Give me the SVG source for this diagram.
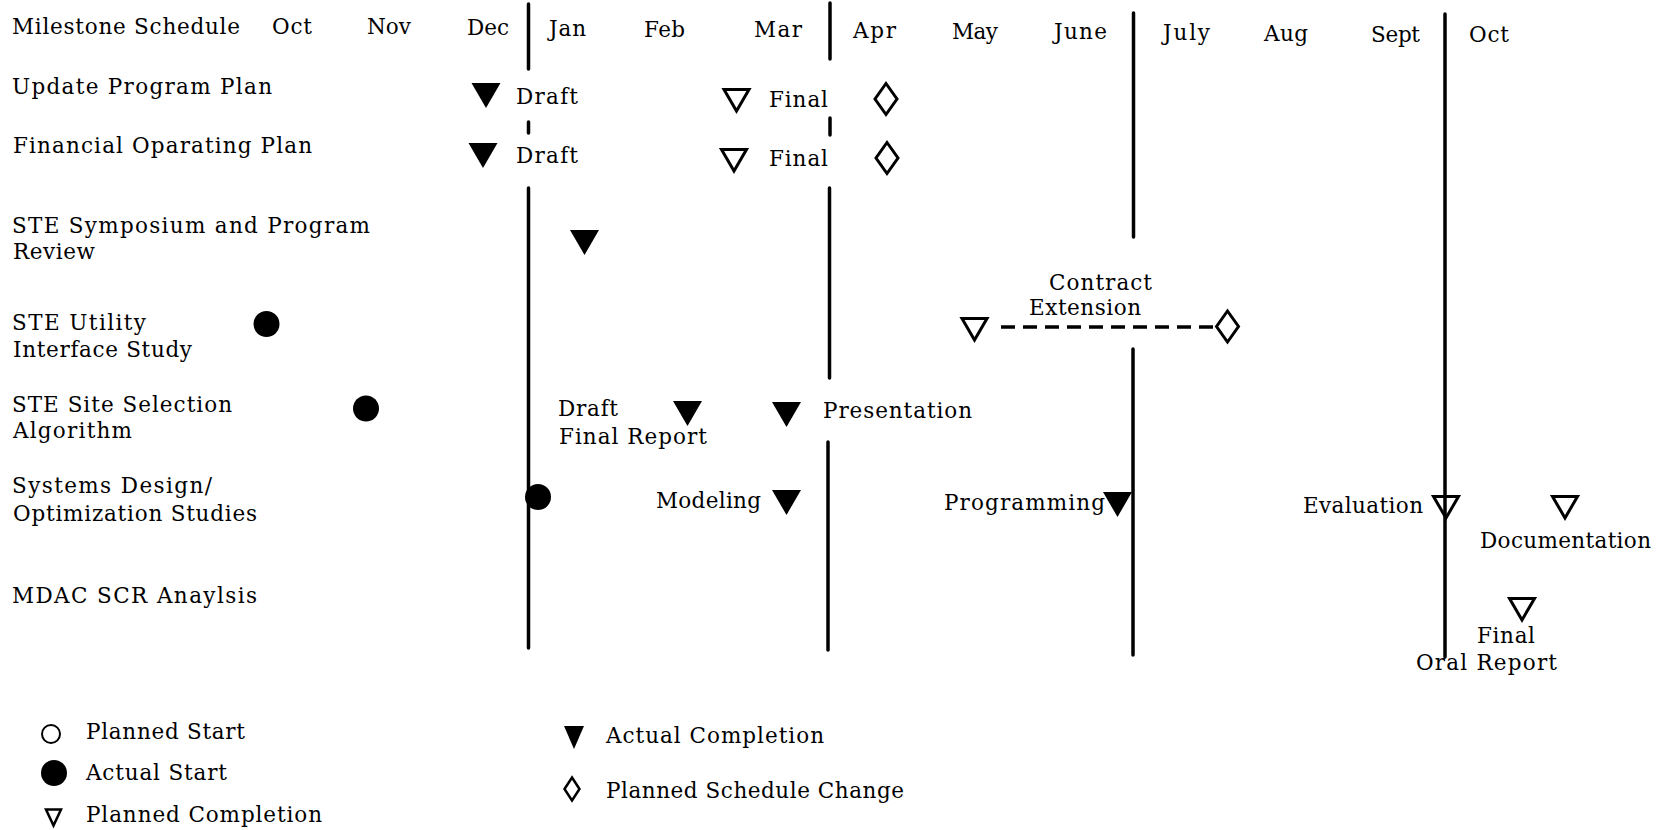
<svg xmlns="http://www.w3.org/2000/svg" xmlns:xlink="http://www.w3.org/1999/xlink" width="1665" height="830" viewBox="0 0 1665 830">
  <style>
    .t { font-family: "DejaVu Serif", "Liberation Serif", serif; font-size: 21.5px; fill: #000; }
    .div { stroke: #000; stroke-width: 3.5; stroke-linecap: round; fill: none; }
    .ext { stroke: #000; stroke-width: 3.5; stroke-dasharray: 14 8; fill: none; }
    .act { fill: #000; }
    .pln { fill: #fff; stroke: #000; stroke-width: 3; stroke-linejoin: miter; }
    .thru { fill: none; }
    .chg { fill: #fff; stroke: #000; stroke-width: 3; stroke-linejoin: miter; }
    .beg { fill: #000; }
  </style>
  <defs>
    <!-- actual completion: solid down triangle, origin at top centre -->
    <polygon id="tri-act" class="act" points="-14.5,0 14.5,0 0,25"/>
    <!-- planned completion: open down triangle, origin at top centre -->
    <polygon id="tri-pln" points="-12.5,1.5 12.5,1.5 0,23"/>
    <!-- planned schedule change: open diamond, origin at centre -->
    <polygon id="dia" class="chg" points="0,-15.5 11,0 0,15.5 -11,0"/>
    <!-- actual start: solid dot -->
    <circle id="dot" class="beg" r="13"/>
  </defs>

  <rect width="1665" height="830" fill="#fff"/>

  <!-- quarter dividers -->
  <g id="dividers">
    <line class="div" x1="528.5" y1="4" x2="528.5" y2="69"/>
    <line class="div" x1="528.5" y1="122" x2="528.5" y2="133"/>
    <line class="div" x1="528.5" y1="188" x2="528.5" y2="648"/>
    <line class="div" x1="830" y1="3" x2="830" y2="59"/>
    <line class="div" x1="830" y1="118" x2="830" y2="135"/>
    <line class="div" x1="829.5" y1="188" x2="829.5" y2="378"/>
    <line class="div" x1="828" y1="442" x2="828" y2="650"/>
    <line class="div" x1="1133.5" y1="13" x2="1133.5" y2="237"/>
    <line class="div" x1="1133" y1="349" x2="1133" y2="655"/>
    <line class="div" x1="1445" y1="14" x2="1445" y2="657"/>
  </g>

  <!-- month header -->
  <g id="header">
    <text class="t" x="12" y="33.5" textLength="228">Milestone Schedule</text>
    <text class="t" x="272" y="33.5" textLength="40">Oct</text>
    <text class="t" x="367" y="33.5" textLength="44">Nov</text>
    <text class="t" x="467" y="35" textLength="42">Dec</text>
    <text class="t" x="549" y="36" textLength="37">Jan</text>
    <text class="t" x="644" y="36.5" textLength="41">Feb</text>
    <text class="t" x="754" y="37" textLength="48">Mar</text>
    <text class="t" x="853" y="38" textLength="43">Apr</text>
    <text class="t" x="952" y="38.5" textLength="46">May</text>
    <text class="t" x="1054" y="39" textLength="53">June</text>
    <text class="t" x="1163" y="40" textLength="47">July</text>
    <text class="t" x="1264" y="41" textLength="44">Aug</text>
    <text class="t" x="1371" y="41.5" textLength="49">Sept</text>
    <text class="t" x="1469" y="42" textLength="40">Oct</text>
  </g>

  <g id="update-program-plan">
    <text class="t" x="12" y="94" textLength="260">Update Program Plan</text>
    <use xlink:href="#tri-act" x="486" y="83"/>
    <text class="t" x="516" y="104" textLength="62">Draft</text>
    <use xlink:href="#tri-pln" class="pln" x="736.5" y="88"/>
    <text class="t" x="769" y="107" textLength="59">Final</text>
    <use xlink:href="#dia" x="886" y="99"/>
  </g>

  <g id="financial-operating-plan">
    <text class="t" x="13" y="153" textLength="299">Financial Oparating Plan</text>
    <use xlink:href="#tri-act" x="483" y="143"/>
    <text class="t" x="516" y="163" textLength="62">Draft</text>
    <use xlink:href="#tri-pln" class="pln" x="734" y="148"/>
    <text class="t" x="769" y="166" textLength="59">Final</text>
    <use xlink:href="#dia" x="887" y="158"/>
  </g>

  <g id="ste-symposium">
    <text class="t" x="12" y="233" textLength="358">STE Symposium and Program</text>
    <text class="t" x="13" y="259" textLength="82">Review</text>
    <use xlink:href="#tri-act" x="584.5" y="230"/>
  </g>

  <g id="ste-utility">
    <text class="t" x="12" y="330" textLength="134">STE Utility</text>
    <text class="t" x="13" y="357" textLength="179">Interface Study</text>
    <use xlink:href="#dot" x="266.5" y="324"/>
    <text class="t" x="1049" y="290" textLength="103">Contract</text>
    <text class="t" x="1029" y="315" textLength="112">Extension</text>
    <use xlink:href="#tri-pln" class="pln" x="974.5" y="317"/>
    <use xlink:href="#dia" x="1227.5" y="326.5"/>
  </g>

  <g id="ste-site-selection">
    <text class="t" x="12" y="412" textLength="220">STE Site Selection</text>
    <text class="t" x="13" y="438" textLength="119">Algorithm</text>
    <use xlink:href="#dot" x="366" y="408.5"/>
    <text class="t" x="558" y="416" textLength="60">Draft</text>
    <text class="t" x="559" y="444" textLength="148">Final Report</text>
    <use xlink:href="#tri-act" x="687.5" y="401"/>
    <use xlink:href="#tri-act" x="786.5" y="402"/>
    <text class="t" x="823" y="418" textLength="149">Presentation</text>
  </g>

  <g id="systems-design">
    <text class="t" x="12" y="493" textLength="200">Systems Design/</text>
    <text class="t" x="13" y="521" textLength="244">Optimization Studies</text>
    <use xlink:href="#dot" x="538" y="497"/>
    <text class="t" x="656" y="508" textLength="105">Modeling</text>
    <use xlink:href="#tri-act" x="786.5" y="490"/>
    <text class="t" x="944" y="510" textLength="161">Programming</text>
    <use xlink:href="#tri-act" x="1117.5" y="492"/>
    <text class="t" x="1303" y="513" textLength="120">Evaluation</text>
    <use xlink:href="#tri-pln" class="pln thru" x="1446" y="495"/>
    <use xlink:href="#tri-pln" class="pln" x="1565" y="495"/>
    <text class="t" x="1480" y="548" textLength="171">Documentation</text>
  </g>

  <g id="mdac-scr-analysis">
    <text class="t" x="12" y="603" textLength="245">MDAC SCR Anaylsis</text>
    <use xlink:href="#tri-pln" class="pln" x="1522" y="597"/>
    <text class="t" x="1477" y="643" textLength="58">Final</text>
    <text class="t" x="1416" y="670" textLength="141">Oral Report</text>
  </g>

  <!-- contract extension link -->
  <g id="connectors">
    <line class="ext" x1="1001" y1="327" x2="1214" y2="327"/>
  </g>

  <!-- key -->
  <g id="legend">
    <circle cx="51" cy="734" r="9" fill="#fff" stroke="#000" stroke-width="2"/>
    <text class="t" x="86" y="739" textLength="159">Planned Start</text>
    <circle cx="54" cy="773" r="13" class="beg"/>
    <text class="t" x="86" y="780" textLength="141">Actual Start</text>
    <polygon points="46,809.5 61,809.5 53.5,825.5" fill="#fff" stroke="#000" stroke-width="2.5"/>
    <text class="t" x="86" y="822" textLength="236">Planned Completion</text>
    <polygon points="564,726 584,726 574,749" class="act"/>
    <text class="t" x="606" y="743" textLength="218">Actual Completion</text>
    <polygon points="572,777.5 579.5,789 572,800.5 564.5,789" fill="#fff" stroke="#000" stroke-width="2.5"/>
    <text class="t" x="606" y="798" textLength="298">Planned Schedule Change</text>
  </g>
</svg>
